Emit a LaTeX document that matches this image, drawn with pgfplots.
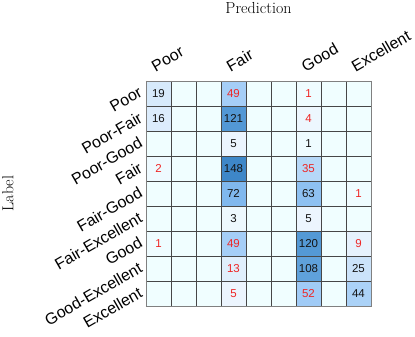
\documentclass[border=0pt]{standalone}
\usepackage{fontspec}
\newfontfamily\sfarial{Liberation Sans}
\usepackage{pgfplots}
\usepackage{pgfplotstable}
\pgfplotsset{compat=1.18}
\definecolor{numred}{RGB}{238,38,38}
\definecolor{numblack}{RGB}{20,20,20}

\pgfplotstableread{
x y c
0 0 19
1 0 0
2 0 0
3 0 49
4 0 0
5 0 0
6 0 1
7 0 0
8 0 0
0 1 16
1 1 0
2 1 0
3 1 121
4 1 0
5 1 0
6 1 4
7 1 0
8 1 0
0 2 0
1 2 0
2 2 0
3 2 5
4 2 0
5 2 0
6 2 1
7 2 0
8 2 0
0 3 2
1 3 0
2 3 0
3 3 148
4 3 0
5 3 0
6 3 35
7 3 0
8 3 0
0 4 0
1 4 0
2 4 0
3 4 72
4 4 0
5 4 0
6 4 63
7 4 0
8 4 1
0 5 0
1 5 0
2 5 0
3 5 3
4 5 0
5 5 0
6 5 5
7 5 0
8 5 0
0 6 1
1 6 0
2 6 0
3 6 49
4 6 0
5 6 0
6 6 120
7 6 0
8 6 9
0 7 0
1 7 0
2 7 0
3 7 13
4 7 0
5 7 0
6 7 108
7 7 0
8 7 25
0 8 0
1 8 0
2 8 0
3 8 5
4 8 0
5 8 0
6 8 52
7 8 0
8 8 44
}\cmtable

\pgfplotstableread{
x y t
0 0 19
0 1 16
3 1 121
3 2 5
6 2 1
3 3 148
3 4 72
6 4 63
3 5 3
6 5 5
6 6 120
6 7 108
8 7 25
8 8 44
}\blacktable

\pgfplotstableread{
x y t
3 0 49
6 0 1
6 1 4
0 3 2
6 3 35
8 4 1
0 6 1
3 6 49
8 6 9
3 7 13
3 8 5
6 8 52
}\redtable

\begin{document}
\begin{tikzpicture}
\begin{axis}[
  at={(0pt,0pt)}, anchor=south west,
  scale only axis, width=225pt, height=225pt,
  xmin=-0.5, xmax=8.5, ymin=-0.5, ymax=8.5,
  y dir=reverse,
  axis on top,
  colormap={cm}{
    rgb255(0pt)=(240,254,255)
    rgb255(5pt)=(236,245,254)
    rgb255(20pt)=(214,233,251)
    rgb255(35pt)=(182,216,248)
    rgb255(49pt)=(165,206,247)
    rgb255(72pt)=(128,184,238)
    rgb255(120pt)=(84,153,213)
    rgb255(148pt)=(62,135,200)
  },
  point meta min=0, point meta max=148,
  xtick={0,3,6,8}, xticklabels={Poor,Fair,Good,Excellent},
  ytick={0,1,2,3,4,5,6,7,8},
  yticklabels={Poor,Poor-Fair,Poor-Good,Fair,Fair-Good,Fair-Excellent,Good,Good-Excellent,Excellent},
  xticklabel pos=upper,
  minor xtick={-0.5,0.5,1.5,2.5,3.5,4.5,5.5,6.5,7.5,8.5},
  minor ytick={-0.5,0.5,1.5,2.5,3.5,4.5,5.5,6.5,7.5,8.5},
  xminorgrids, yminorgrids,
  minor grid style={black!72, line width=0.5pt},
  major tick length=0pt, minor tick length=0pt,
  axis line style={black!50, line width=0.8pt},
  xticklabel style={font=\sfarial\fontsize{16}{19}\selectfont, xshift=-4pt, yshift=4pt, rotate=30, anchor=south west},
  yticklabel style={font=\sfarial\fontsize{16}{19}\selectfont, xshift=-7pt, yshift=12pt, rotate=30, anchor=north east},
  xlabel={Prediction}, ylabel={Label},
  every axis x label/.style={at={(axis description cs:0.5,1)}, yshift=73pt, anchor=center, font=\fontsize{16}{19}\selectfont},
  every axis y label/.style={at={(axis description cs:0,0.5)}, xshift=-138pt, rotate=90, anchor=center, font=\fontsize{16}{19}\selectfont},
]
\addplot[matrix plot*, mesh/cols=9, point meta=explicit] table[x=x, y=y, meta=c] {\cmtable};
\addplot[draw=none, nodes near coords, point meta=explicit symbolic, nodes near coords align={center},
  every node near coord/.append style={font=\sfarial\fontsize{11.5}{13}\selectfont, text=numblack}]
  table[x=x, y=y, meta=t] {\blacktable};
\addplot[draw=none, nodes near coords, point meta=explicit symbolic, nodes near coords align={center},
  every node near coord/.append style={font=\sfarial\fontsize{11.5}{13}\selectfont, text=numred}]
  table[x=x, y=y, meta=t] {\redtable};
\end{axis}
\pgfresetboundingbox
\useasboundingbox (-146pt,-31pt) rectangle (269pt,306pt);
\end{tikzpicture}
\end{document}
